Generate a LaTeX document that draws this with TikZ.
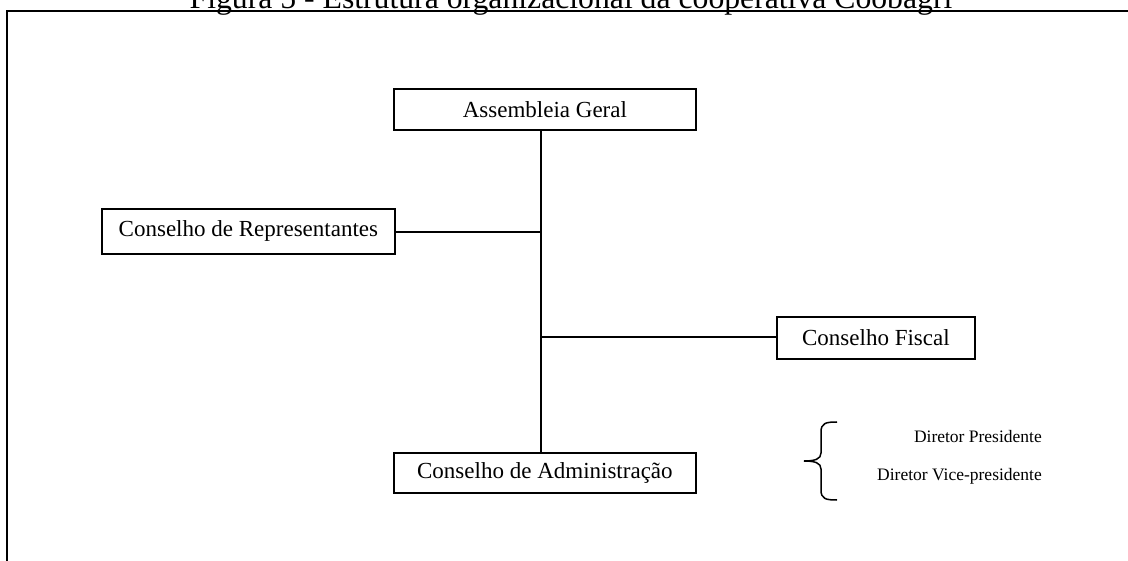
\documentclass[tikz,border=0pt]{standalone}
\usepackage{fontspec}
\setmainfont{Liberation Serif}
\begin{document}
\begin{tikzpicture}[x=1pt,y=-1pt,
  box/.style={draw, line width=1.8pt, inner sep=0pt, anchor=north west,
    font=\fontsize{23}{27}\selectfont},
  conn/.style={line width=1.8pt},
  dirtext/.style={inner sep=0pt, anchor=east, font=\fontsize{17.5}{21}\selectfont},
  frame/.style={line width=2.2pt}
]
\useasboundingbox (0,0) rectangle (1128,561);
% title
\node[anchor=base, inner sep=0pt, font=\fontsize{31.7}{36}\selectfont] (title) at (571,8.5)
  {Figura 5 - Estrutura organizacional da cooperativa Coobagri};
% frame
\draw[frame] (1128,10.7) -- (7,10.7) -- (7,561);
% boxes
\node[box, minimum width=302pt, minimum height=41pt] (ag) at (393,88) {Assembleia Geral};
\node[box, minimum width=293pt, minimum height=45pt] (cr) at (101,208) {Conselho de Representantes};
\node[box, minimum width=198pt, minimum height=42pt] (cf) at (776,316) {Conselho Fiscal};
\node[box, minimum width=302pt, minimum height=40pt] (ca) at (393,452) {Conselho de Administração};
% junctions
\coordinate (j1) at (541,232);
\coordinate (j2) at (541,337);
\draw[conn] (ag.south -| j1) -- (ca.north -| j1);
\draw[conn] (cr.east |- j1) -- (j1);
\draw[conn] (j2) -- (cf.west |- j2);
% directors
\node[dirtext] (dp) at (1042,437) {Diretor Presidente};
\node[dirtext] (dv) at (1042,476) {Diretor Vice-presidente};
% brace
\draw[line width=1.5pt] (837,422) .. controls (826,422) and (821,423) .. (821,432)
  -- (821,453) .. controls (821,459) and (815,461) .. (804,461)
  .. controls (815,461) and (821,463) .. (821,469)
  -- (821,490) .. controls (821,499) and (826,500) .. (837,500);
\end{tikzpicture}
\end{document}
